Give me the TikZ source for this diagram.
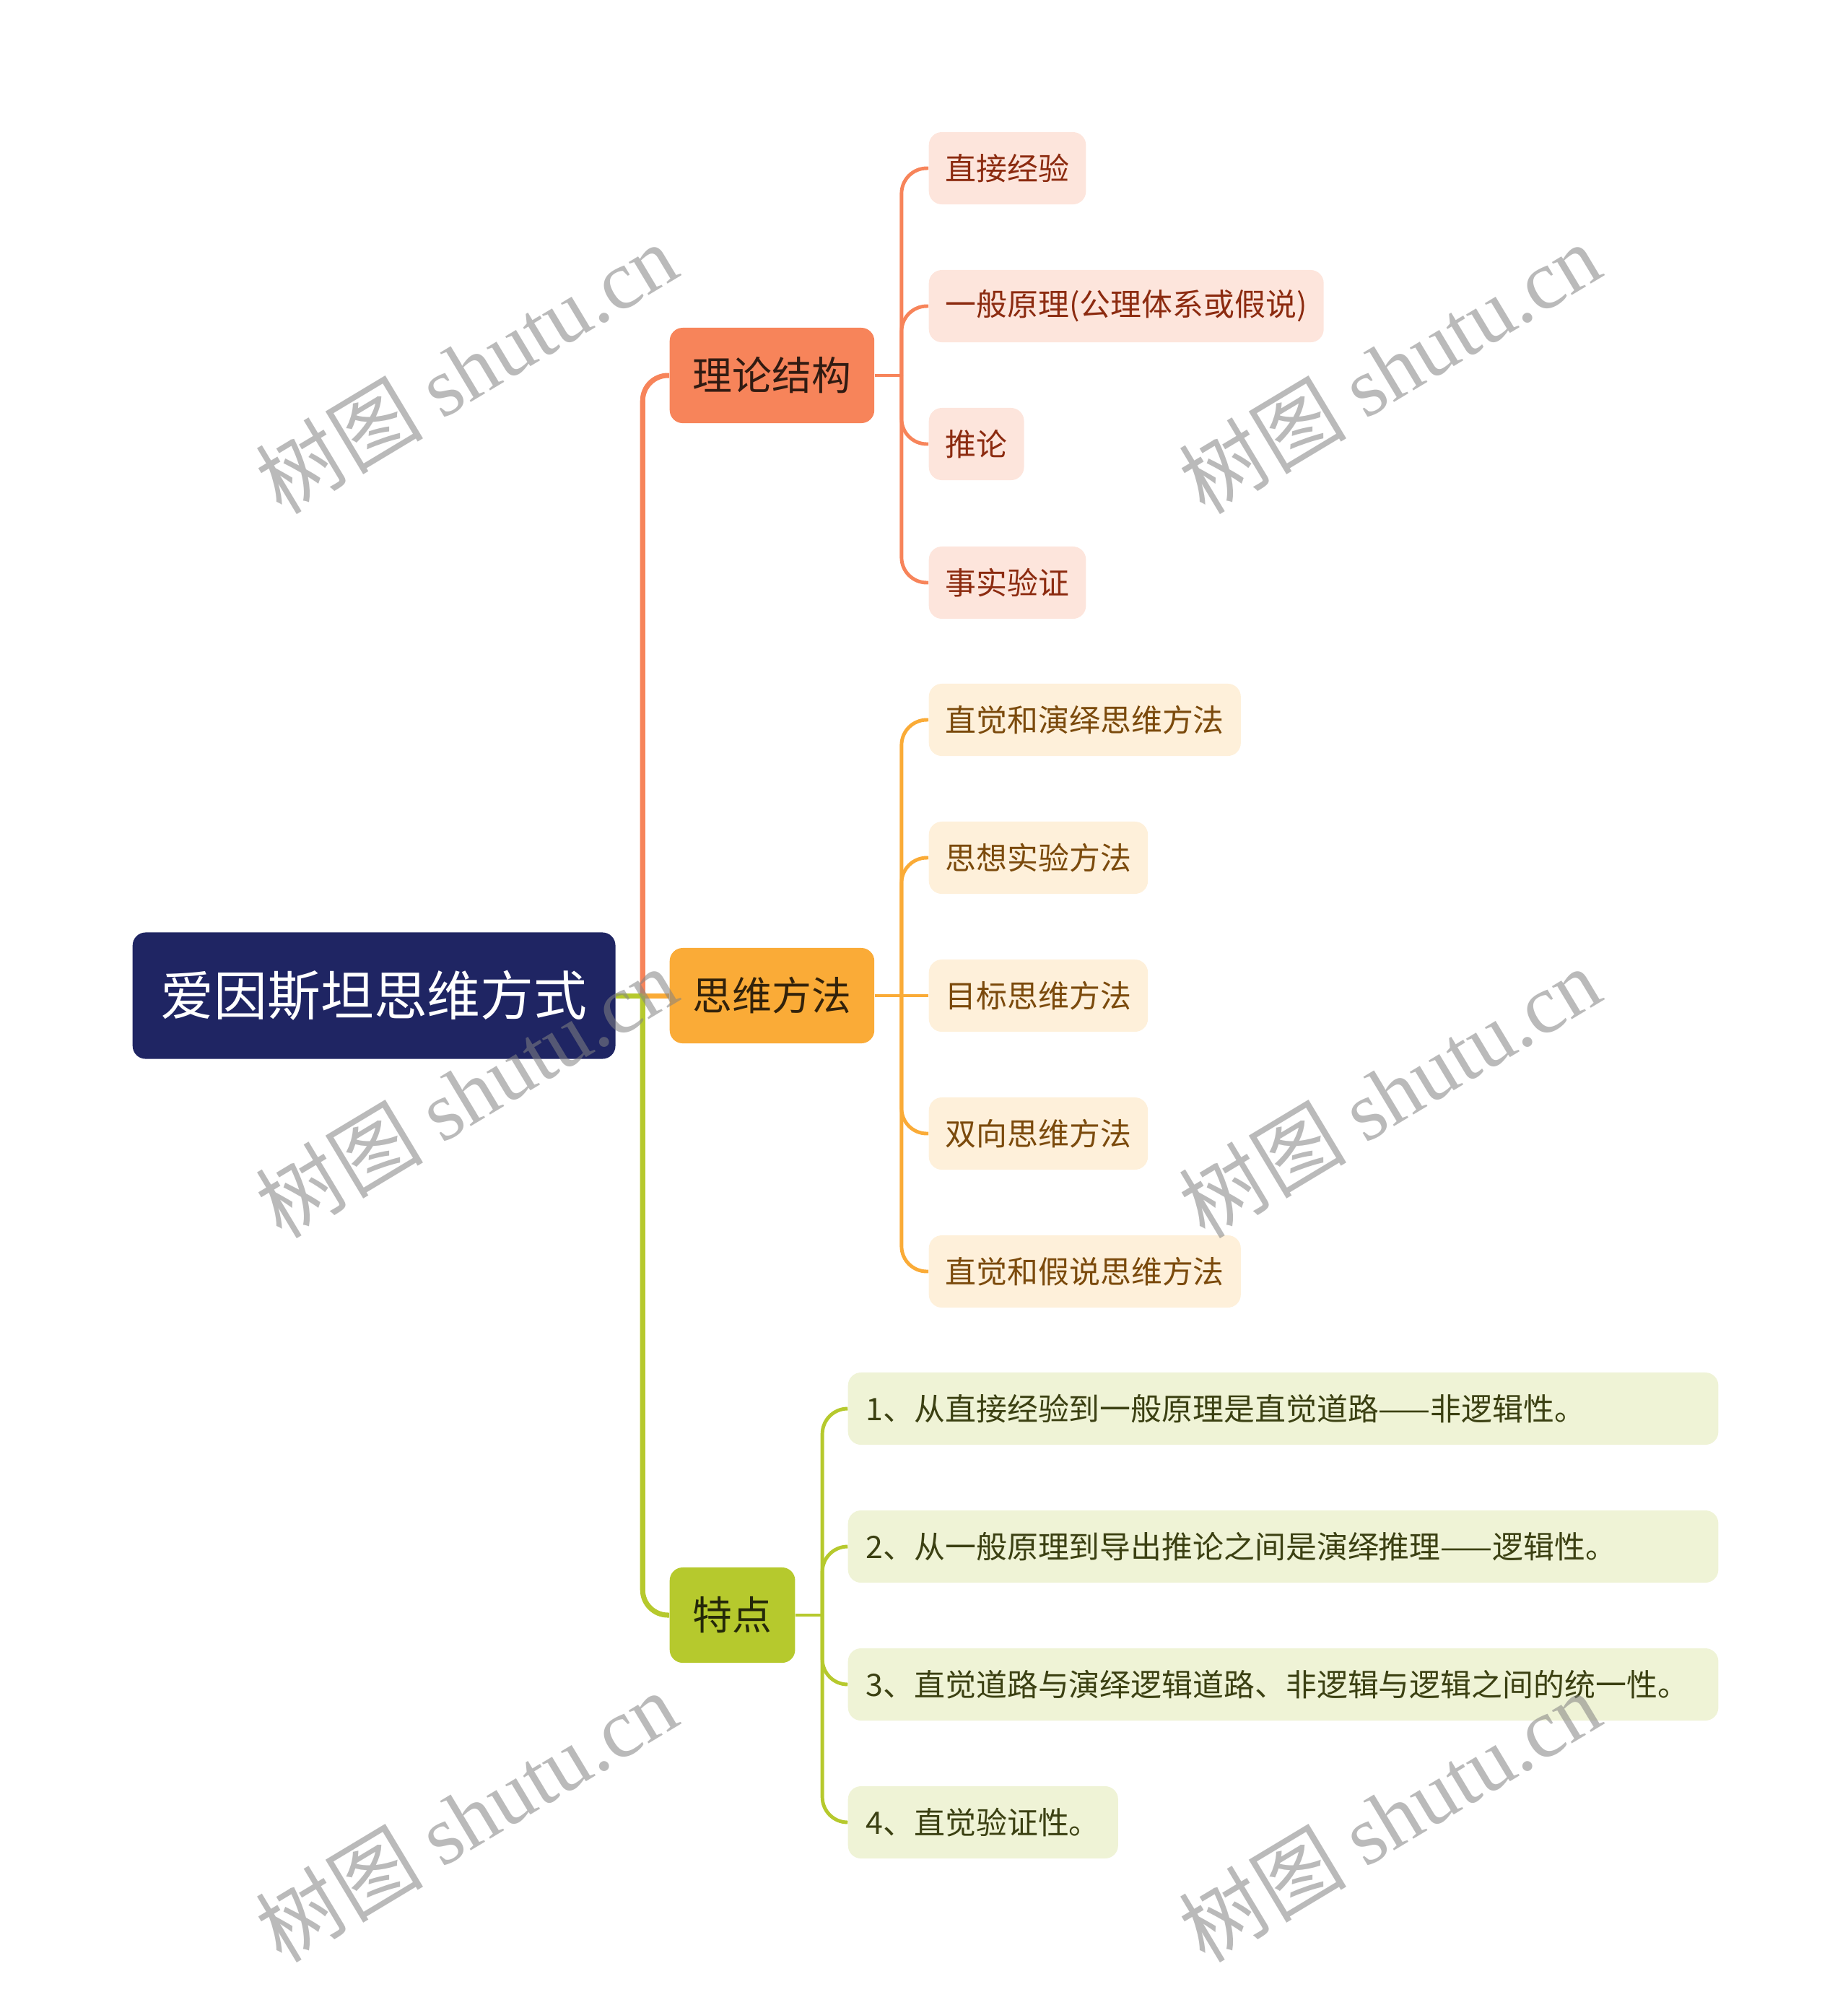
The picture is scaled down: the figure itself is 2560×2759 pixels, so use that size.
\documentclass[tikz,border=0pt]{standalone}
\usepackage{fontspec}
\setmainfont{Noto Sans CJK SC}
\newfontfamily\markserif{Liberation Serif}
\usepackage{xcolor}
\usetikzlibrary{positioning}

\definecolor{rootblue}{HTML}{1F2563}
\definecolor{llorange}{HTML}{F7845A}
\definecolor{llyellow}{HTML}{FAAB37}
\definecolor{llgreen}{HTML}{B6C92D}
\definecolor{lforange}{HTML}{FDE5DC}
\definecolor{lfyellow}{HTML}{FEF0DA}
\definecolor{lfgreen}{HTML}{EFF3D6}
\definecolor{txorange}{HTML}{8C2B10}
\definecolor{txyellow}{HTML}{7B4A0C}
\definecolor{txgreen}{HTML}{3B4012}
\definecolor{markgray}{HTML}{828282}

\newcommand{\rootfont}{\fontsize{21}{25}\selectfont}
\newcommand{\topicfont}{\fontsize{15.6}{19}\selectfont}
\newcommand{\leaffont}{\fontsize{12.2}{15}\selectfont}

\begin{document}
\begin{tikzpicture}[x=0.01cm,y=-0.01cm,
    rootbox/.style={fill=rootblue,text=white,rounded corners=0.18cm,
      minimum height=1.75cm,inner xsep=0.39cm,anchor=west,font=\rootfont},
    topicbox/.style={rounded corners=0.18cm,minimum height=1.32cm,
      inner xsep=0.32cm,anchor=west,font=\topicfont},
    leafbox/.style={rounded corners=0.18cm,minimum height=1cm,
      inner xsep=0.23cm,anchor=west,font=\leaffont},
    trunk/.style={line width=2pt},
    twig/.style={line width=1.4pt},
    wmark/.style={rotate=31,text=markgray,opacity=0.55,font=\fontsize{33}{37}\selectfont}]
  \useasboundingbox (0,0) rectangle (2560,2759);

  % root and main topics
  \node[rootbox] (root) at (183,1379) {爱因斯坦思维方式};
  \node[topicbox,fill=llorange,text=black!80!llorange] (lilun) at (927,520) {理论结构};
  \node[topicbox,fill=llyellow,text=black!80!llyellow] (fangfa) at (927,1379) {思维方法};
  \node[topicbox,fill=llgreen,text=black!80!llgreen] (tedian) at (927,2237) {特点};

  % root connectors
  \draw[trunk,llorange,rounded corners=0.35cm] (root.east) ++(37,0) |- (lilun.west);
  \draw[trunk,llyellow] (root.east) -- (fangfa.west);
  \draw[trunk,llgreen] (root.east) -- ++(37,0);
  \draw[trunk,llgreen,rounded corners=0.35cm] (root.east) ++(37,0) |- (tedian.west);

  % theory structure
  \draw[twig,llorange] (lilun.east) -- ++(37,0);
  \foreach \y/\n/\t in {233/a1/直接经验,424/a2/{一般原理(公理体系或假说)},615/a3/推论,807/a4/事实验证}
    {\node[leafbox,fill=lforange,text=txorange] (\n) at (1286,\y) {\t};
     \draw[twig,llorange,rounded corners=0.35cm] (lilun.east) ++(37,0) |- (\n.west);}

  % thinking methods
  \draw[twig,llyellow] (fangfa.east) -- ++(37,0);
  \foreach \y/\n/\t in {997/b1/直觉和演绎思维方法,1188/b2/思想实验方法,1570/b4/双向思维方法,1761/b5/直觉和假说思维方法}
    {\node[leafbox,fill=lfyellow,text=txyellow] (\n) at (1286,\y) {\t};
     \draw[twig,llyellow,rounded corners=0.35cm] (fangfa.east) ++(37,0) |- (\n.west);}
  \node[leafbox,fill=lfyellow,text=txyellow] (b3) at (1286,1379) {目标思维方法};
  \draw[twig,llyellow] (fangfa.east) -- (b3.west);

  % features
  \draw[twig,llgreen] (tedian.east) -- ++(37,0);
  \foreach \y/\n/\t in {1951/c1/{1、从直接经验到一般原理是直觉道路——非逻辑性。},
                        2142/c2/{2、从一般原理到导出推论之间是演绎推理——逻辑性。},
                        2333/c3/{3、直觉道路与演绎逻辑道路、非逻辑与逻辑之间的统一性。}}
    {\node[leafbox,fill=lfgreen,text=txgreen,text width=11.55cm,inner xsep=0.25cm,align=left] (\n) at (1174,\y) {\t};
     \draw[twig,llgreen,rounded corners=0.35cm] (tedian.east) ++(37,0) |- (\n.west);}
  \node[leafbox,fill=lfgreen,text=txgreen,inner xsep=0.25cm] (c4) at (1174,2524) {4、直觉验证性。};
  \draw[twig,llgreen,rounded corners=0.35cm] (tedian.east) ++(37,0) |- (c4.west);

  % watermarks
  \foreach \x/\y in {646/510,1925/510,646/1513,1925/1513,646/2516,1925/2516}
    {\node[wmark] at (\x,\y) {树图 {\markserif shutu.cn}};}
\end{tikzpicture}
\end{document}
